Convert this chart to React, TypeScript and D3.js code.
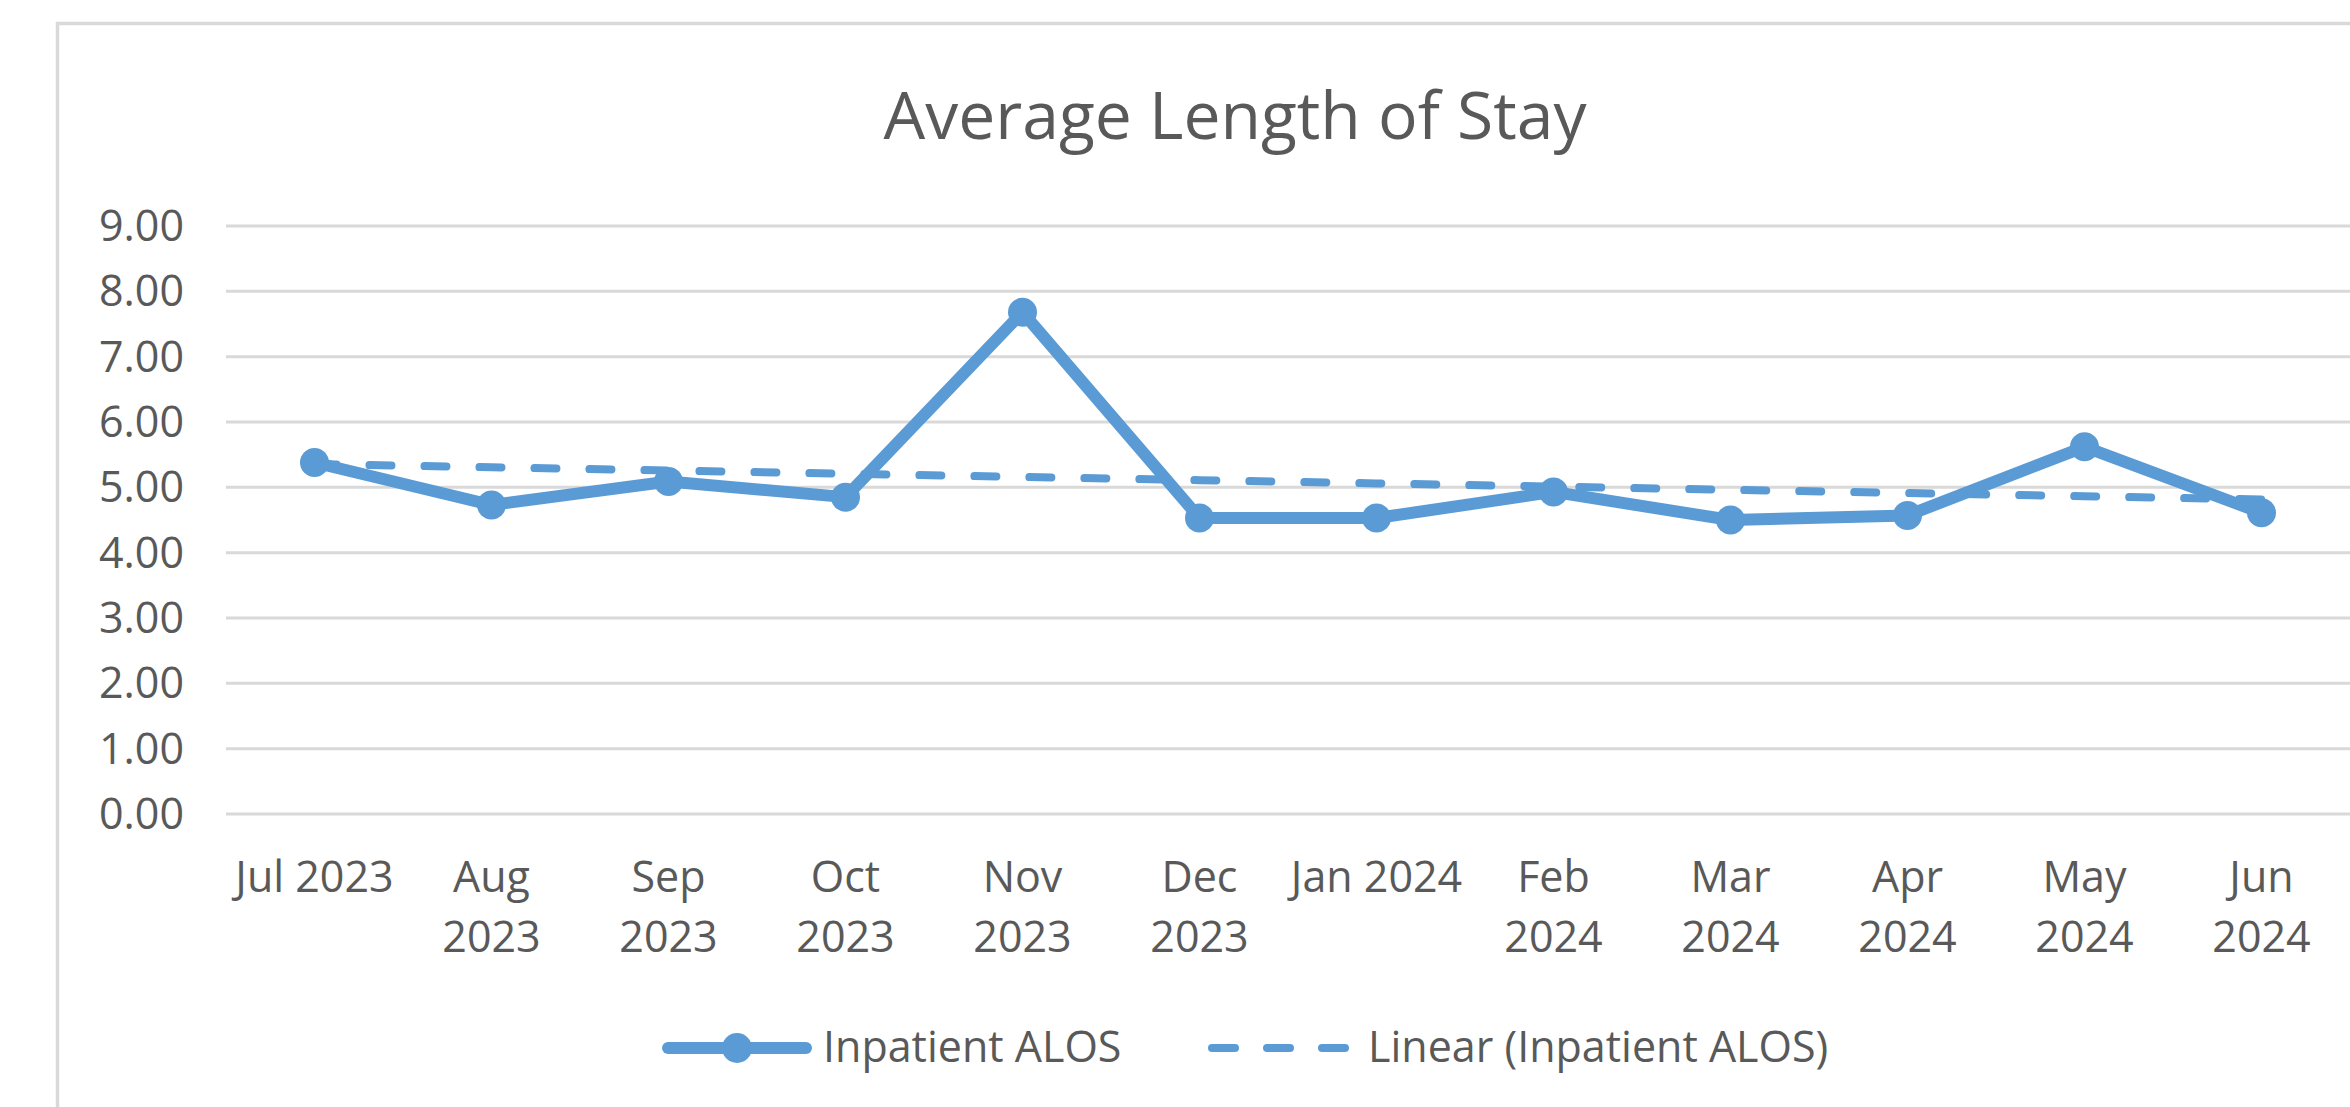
import React from "react";
import * as d3 from "d3";

// monthly inpatient average length of stay
const months = [
  "Jul 2023", "Aug 2023", "Sep 2023", "Oct 2023", "Nov 2023", "Dec 2023",
  "Jan 2024", "Feb 2024", "Mar 2024", "Apr 2024", "May 2024", "Jun 2024",
];
// tick labels as Excel wrapped them
const tickLabels = [
  ["Jul 2023"], ["Aug", "2023"], ["Sep", "2023"], ["Oct", "2023"], ["Nov", "2023"], ["Dec", "2023"],
  ["Jan 2024"], ["Feb", "2024"], ["Mar", "2024"], ["Apr", "2024"], ["May", "2024"], ["Jun", "2024"],
];
const alos = [5.38, 4.73, 5.09, 4.85, 7.68, 4.53, 4.53, 4.93, 4.5, 4.57, 5.62, 4.61];
const yTicks = [0, 1, 2, 3, 4, 5, 6, 7, 8, 9];

const width = 2350,
  height = 1107;
const blue = "#5B9BD5";
const grid = "#D9D9D9";
const textColor = "#595959";
const font = "'Open Sans', 'Segoe UI', sans-serif";

const App = () => {
  const x = d3.scaleBand().domain(months).range([226, 2350]);
  const y = d3.scaleLinear().domain([0, 9]).range([814, 226]);
  const cx = (m) => x(m) + x.bandwidth() / 2;

  // Excel's linear trendline: least squares over the point index
  const idx = alos.map((_, i) => i);
  const mx = d3.mean(idx),
    my = d3.mean(alos);
  const slope =
    d3.sum(idx, (i) => (i - mx) * (alos[i] - my)) / d3.sum(idx, (i) => (i - mx) ** 2);
  const trend = idx.map((i) => my + slope * (i - mx));

  const line = d3
    .line()
    .x((d) => cx(d[0]))
    .y((d) => y(d[1]));

  return (
    <svg
      width={width}
      height={height}
      style={{ position: "fixed", left: 0, top: 0, background: "#fff" }}
      fontFamily={font}
    >
      <rect x={57.5} y={23.5} width={2400} height={1200} fill="#fff" stroke={grid} strokeWidth={3.5} />
      <text x={1235} y={139} textAnchor="middle" fontSize={66} fill={textColor}>
        Average Length of Stay
      </text>

      <g>
        {yTicks.map((t) => (
          <g key={t}>
            <line x1={226} x2={2350} y1={y(t)} y2={y(t)} stroke={grid} strokeWidth={3} />
            <text x={184} y={y(t)} dy="0.35em" textAnchor="end" fontSize={43} fill={textColor}>
              {d3.format(".2f")(t)}
            </text>
          </g>
        ))}
      </g>

      <g>
        {months.map((m, i) => (
          <text key={m} x={cx(m)} y={892} textAnchor="middle" fontSize={43} fill={textColor}>
            {tickLabels[i].map((s, j) => (
              <tspan key={j} x={cx(m)} dy={j ? 60 : 0}>
                {s}
              </tspan>
            ))}
          </text>
        ))}
      </g>

      <path
        d={line(months.map((m, i) => [m, trend[i]]))}
        fill="none"
        stroke={blue}
        strokeWidth={8}
        strokeDasharray="22 33"
        strokeLinecap="round"
      />
      <path
        d={line(months.map((m, i) => [m, alos[i]]))}
        fill="none"
        stroke={blue}
        strokeWidth={12}
        strokeLinejoin="round"
      />
      {months.map((m, i) => (
        <circle key={m} cx={cx(m)} cy={y(alos[i])} r={14.5} fill={blue} />
      ))}

      <g>
        <line x1={668} x2={806} y1={1048} y2={1048} stroke={blue} strokeWidth={12} strokeLinecap="round" />
        <circle cx={737} cy={1048} r={15} fill={blue} />
        <text x={823} y={1062} fontSize={43} fill={textColor}>
          Inpatient ALOS
        </text>
        <line
          x1={1212}
          x2={1345}
          y1={1048}
          y2={1048}
          stroke={blue}
          strokeWidth={8}
          strokeDasharray="23 32"
          strokeLinecap="round"
        />
        <text x={1368} y={1062} fontSize={43} fill={textColor}>
          Linear (Inpatient ALOS)
        </text>
      </g>
    </svg>
  );
};

export default App;
